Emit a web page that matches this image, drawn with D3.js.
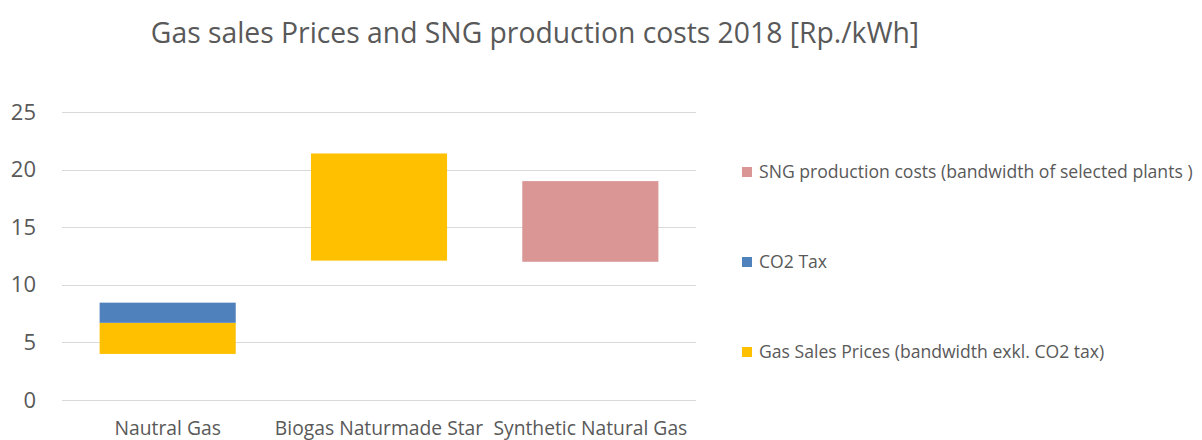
<!DOCTYPE html>
<html>
<head>
<meta charset="utf-8">
<script src="https://cdn.jsdelivr.net/npm/d3@7"></script>
<style>
  body { margin: 0; background: #fff; }
  svg { display: block; font-family: "Open Sans", sans-serif; }
</style>
</head>
<body>
<svg id="chart" width="1202" height="440"></svg>
<script>
// data
const categories = ["Nautral Gas", "Biogas Naturmade Star", "Synthetic Natural Gas"];
const baseOffset = [4.0, 12.1, 12.0];      // invisible bottom part
const gasSales   = [2.7, 9.3, 0];
const co2Tax     = [1.75, 0, 0];
const sngCosts   = [0, 0, 7.0];
const yTicks = [0, 5, 10, 15, 20, 25];

const series = [
  { key: "base", values: baseOffset, color: "none" },
  { key: "Gas Sales Prices (bandwidth exkl. CO2 tax)", values: gasSales, color: "#FFC000" },
  { key: "CO2 Tax", values: co2Tax, color: "#4F81BD" },
  { key: "SNG production costs (bandwidth of selected plants )", values: sngCosts, color: "#D99694" }
];

const rows = categories.map((c, i) => {
  const r = { cat: c };
  series.forEach(s => r[s.key] = s.values[i]);
  return r;
});

const stacked = d3.stack().keys(series.map(s => s.key))(rows);

const svg = d3.select("#chart");
const margin = { left: 62, right: 506, top: 112, bottom: 40 };
const W = 1202, H = 440;

const x = d3.scaleBand()
  .domain(categories)
  .range([margin.left, W - margin.right])
  .paddingInner(0.356)
  .paddingOuter(0.178);

const y = d3.scaleLinear()
  .domain([0, 25])
  .range([H - margin.bottom, margin.top]);

// title
svg.append("text")
  .attr("x", 535)
  .attr("y", 43)
  .attr("text-anchor", "middle")
  .attr("fill", "#595959")
  .style("font-size", "28.3px")
  .text("Gas sales Prices and SNG production costs 2018 [Rp./kWh]");

// gridlines
svg.append("g")
  .selectAll("line")
  .data(yTicks)
  .join("line")
  .attr("x1", margin.left)
  .attr("x2", W - margin.right)
  .attr("y1", d => Math.round(y(d)) + 0.5)
  .attr("y2", d => Math.round(y(d)) + 0.5)
  .attr("stroke", "#D9D9D9")
  .attr("stroke-width", 1);

// y axis labels
const yAxis = svg.append("g")
  .attr("transform", `translate(${margin.left - 26},0)`)
  .call(d3.axisLeft(y).tickValues(yTicks).tickSize(0).tickPadding(0));
yAxis.select(".domain").remove();
yAxis.selectAll("text")
  .attr("fill", "#595959")
  .style("font-family", "Open Sans, sans-serif")
  .style("font-size", "22px");

// bars
svg.append("g")
  .selectAll("g")
  .data(stacked.filter(s => s.key !== "base"))
  .join("g")
  .attr("fill", s => series.find(d => d.key === s.key).color)
  .selectAll("rect")
  .data(s => s.filter(d => d[1] > d[0]))
  .join("rect")
  .attr("x", d => x(d.data.cat))
  .attr("width", x.bandwidth())
  .attr("y", d => y(d[1]))
  .attr("height", d => y(d[0]) - y(d[1]));

// x axis labels
const xAxis = svg.append("g")
  .attr("transform", `translate(0,${H - margin.bottom + 21})`)
  .call(d3.axisBottom(x).tickSize(0).tickPadding(0));
xAxis.select(".domain").remove();
xAxis.selectAll("text")
  .attr("fill", "#595959")
  .style("font-family", "Open Sans, sans-serif")
  .style("font-size", "19.3px");

// legend (reversed order like the reference)
const legendItems = series.filter(s => s.key !== "base").slice().reverse();
const legend = svg.append("g")
  .selectAll("g")
  .data(legendItems)
  .join("g")
  .attr("transform", (d, i) => `translate(742,${172 + i * 90})`);

legend.append("rect")
  .attr("x", 0)
  .attr("y", -5)
  .attr("width", 10)
  .attr("height", 10)
  .attr("fill", d => d.color);

legend.append("text")
  .attr("x", 17)
  .attr("y", 0)
  .attr("dy", "0.35em")
  .attr("fill", "#595959")
  .style("font-size", "17.6px")
  .text(d => d.key);
</script>
</body>
</html>
